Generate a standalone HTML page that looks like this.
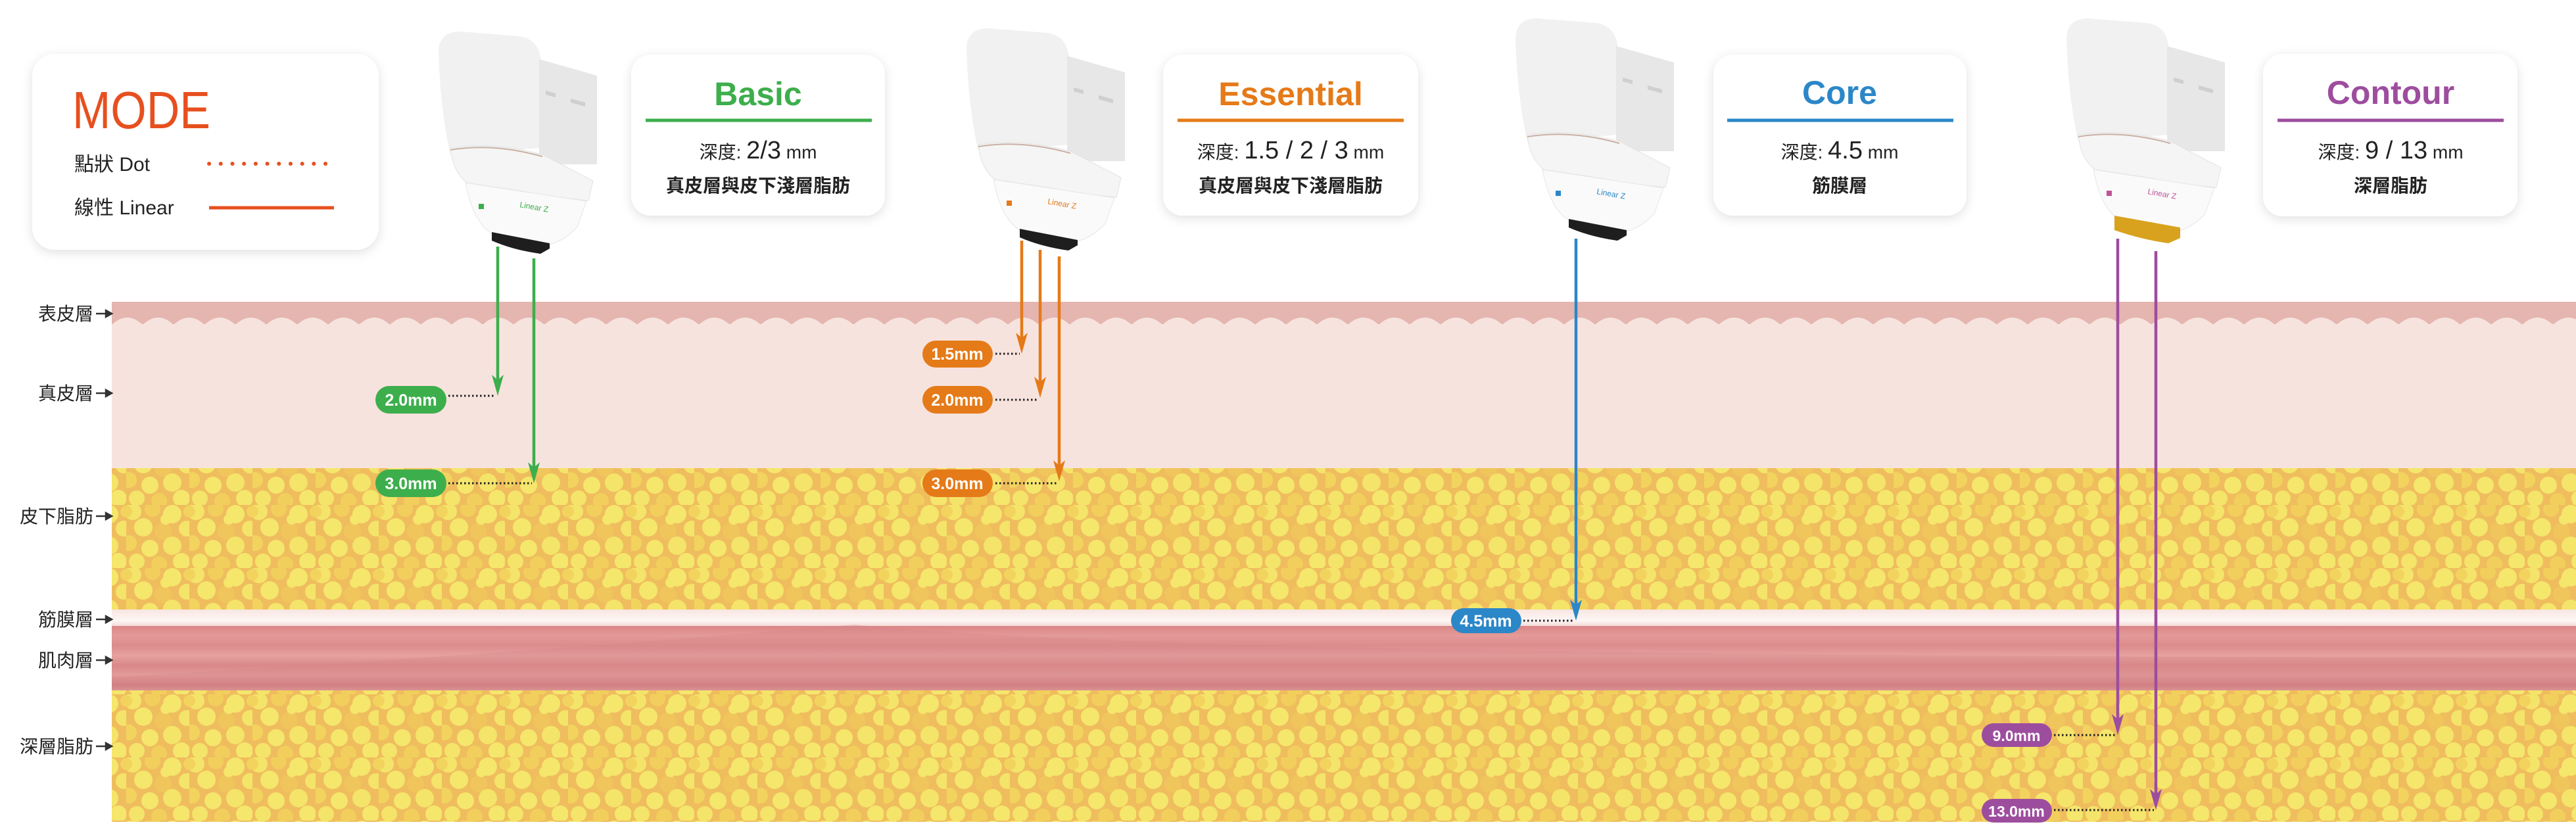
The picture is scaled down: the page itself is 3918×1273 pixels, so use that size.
<!DOCTYPE html>
<html><head><meta charset="utf-8">
<style>
html,body{margin:0;padding:0;background:#fff;}
body{width:3918px;height:1273px;overflow:hidden;position:relative;}
svg{position:absolute;left:0;top:0;}
text{font-family:"Liberation Sans","Noto Sans CJK TC",sans-serif;}
</style></head><body>
<svg width="3918" height="1273" viewBox="0 0 3918 1273" xmlns="http://www.w3.org/2000/svg">
<defs>
  <pattern id="fat" x="0" y="0" width="96" height="96" patternUnits="userSpaceOnUse">
    <rect width="96" height="96" fill="#efbd5e"/>
    <circle cx="10" cy="10" r="13" fill="#f4e46a"/>
    <circle cx="40" cy="6" r="12" fill="#f2cf5c"/>
    <circle cx="70" cy="14" r="14" fill="#f5e66c"/>
    <circle cx="92" cy="36" r="12" fill="#f4e46a"/>
    <circle cx="26" cy="34" r="14" fill="#f5e66c"/>
    <circle cx="56" cy="40" r="13" fill="#f0c65c"/>
    <circle cx="4" cy="58" r="12" fill="#f2d35e"/>
    <circle cx="36" cy="66" r="13" fill="#f5e66c"/>
    <circle cx="70" cy="62" r="14" fill="#f4e46a"/>
    <circle cx="16" cy="86" r="12" fill="#f4e46a"/>
    <circle cx="50" cy="90" r="12" fill="#f2cf5c"/>
    <circle cx="84" cy="86" r="13" fill="#f5e66c"/>
    <circle cx="96" cy="10" r="9" fill="#f2d35e"/>
    <circle cx="0" cy="10" r="9" fill="#f2d35e"/>
    <circle cx="60" cy="22" r="8" fill="#f5e66c"/>
  </pattern>
  <pattern id="wave" x="170" y="474" width="47" height="20" patternUnits="userSpaceOnUse">
    <rect width="47" height="20" fill="#e5b5b0"/>
    <path d="M0,20 Q23.5,-2 47,20 Z" fill="#f7e3de"/>
  </pattern>
  <linearGradient id="muscle" x1="0" y1="0" x2="0" y2="1">
    <stop offset="0" stop-color="#d98686"/>
    <stop offset="0.15" stop-color="#e39a98"/>
    <stop offset="0.3" stop-color="#dc8b8b"/>
    <stop offset="0.45" stop-color="#e6a2a0"/>
    <stop offset="0.6" stop-color="#d98888"/>
    <stop offset="0.75" stop-color="#e39b9a"/>
    <stop offset="0.9" stop-color="#cf7c7e"/>
    <stop offset="1" stop-color="#e0a0a0"/>
  </linearGradient>
  <linearGradient id="fascia" x1="0" y1="0" x2="0" y2="1">
    <stop offset="0" stop-color="#f8e6e2"/>
    <stop offset="0.6" stop-color="#fdf6f4"/>
    <stop offset="1" stop-color="#f1d2cf"/>
  </linearGradient>
  <filter id="sh" x="-10%" y="-10%" width="120%" height="130%">
    <feDropShadow dx="0" dy="4" stdDeviation="8" flood-color="#000" flood-opacity="0.12"/>
  </filter>
  <g id="probe">
    <path d="M27,60 Q27,28 60,28 L150,35 Q183,40 183,80 L183,205 L45,215 Q30,150 27,60Z" fill="#f1f1f1"/>
    <path d="M180,70 L268,95 L268,230 L180,230 Z" fill="#e7e7e7"/>
    <path d="M190,118 L205,122 L205,128 L190,124Z M228,130 L250,136 L250,142 L228,136Z" fill="#cfcfcf"/>
    <path d="M45,205 Q110,195 185,215 L262,255 L255,285 Q200,280 150,270 L70,258 Q48,240 45,205Z" fill="#f5f5f5" stroke="#e2e2e2" stroke-width="1"/>
    <path d="M45,208 Q110,197 185,218" stroke="#c9b0a4" stroke-width="2" fill="none"/>
    <path d="M68,258 L252,286 L238,325 Q220,345 196,352 L110,336 Q80,320 68,258Z" fill="#fafafa" stroke="#e6e6e6" stroke-width="1"/>
  </g>
</defs>

<!-- skin layers -->
<rect x="170" y="459" width="3748" height="34" fill="#e5b5b0"/>
<rect x="170" y="474" width="3748" height="20" fill="url(#wave)"/>
<rect x="170" y="493" width="3748" height="222" fill="#f7e3de"/>
<rect x="170" y="712" width="3748" height="218" fill="url(#fat)"/>
<rect x="170" y="927" width="3748" height="28" fill="url(#fascia)"/>
<rect x="170" y="952" width="3748" height="100" fill="url(#muscle)"/>
<path d="M170,1030 Q700,1000 1300,950 Q1800,1000 3918,1000 L3918,1052 L170,1052Z" fill="#d7878a" opacity="0.35"/>
<rect x="170" y="1050" width="3748" height="200" fill="url(#fat)"/>

<!-- left labels -->
<g font-size="28" fill="#222" text-anchor="end">
  <text x="142" y="487">表皮層</text>
  <text x="142" y="608">真皮層</text>
  <text x="142" y="795">皮下脂肪</text>
  <text x="142" y="952">筋膜層</text>
  <text x="142" y="1014">肌肉層</text>
  <text x="142" y="1145">深層脂肪</text>
</g>
<g stroke="#333" stroke-width="2.5" fill="#333">
  <line x1="146" y1="477" x2="166" y2="477"/><path d="M170,477 l-9,-5 v10z"/>
  <line x1="146" y1="598" x2="166" y2="598"/><path d="M170,598 l-9,-5 v10z"/>
  <line x1="146" y1="785" x2="166" y2="785"/><path d="M170,785 l-9,-5 v10z"/>
  <line x1="146" y1="942" x2="166" y2="942"/><path d="M170,942 l-9,-5 v10z"/>
  <line x1="146" y1="1004" x2="166" y2="1004"/><path d="M170,1004 l-9,-5 v10z"/>
  <line x1="146" y1="1135" x2="166" y2="1135"/><path d="M170,1135 l-9,-5 v10z"/>
</g>

<!-- MODE box -->
<rect x="49" y="82" width="527" height="298" rx="34" fill="#fff" filter="url(#sh)"/>
<text x="110" y="195" font-size="80" fill="#e6501f" textLength="210" lengthAdjust="spacingAndGlyphs">MODE</text>
<text x="113" y="260" font-size="30" fill="#222">點狀 Dot</text>
<text x="113" y="326" font-size="30" fill="#222">線性 Linear</text>
<line x1="318" y1="249" x2="505" y2="249" stroke="#e6501f" stroke-width="6" stroke-linecap="round" stroke-dasharray="0.1 17.6"/>
<line x1="318" y1="316" x2="508" y2="316" stroke="#e6501f" stroke-width="5"/>

<!-- cards -->
<g filter="url(#sh)" fill="#fff">
  <rect x="960" y="83" width="386" height="245" rx="30"/>
  <rect x="1769" y="83" width="388" height="245" rx="30"/>
  <rect x="2606" y="83" width="385" height="245" rx="30"/>
  <rect x="3442" y="82" width="387" height="247" rx="30"/>
</g>
<g text-anchor="middle" font-weight="bold">
  <text x="1153" y="160" font-size="50" fill="#3dae4c">Basic</text>
  <line x1="982" y1="183" x2="1326" y2="183" stroke="#3dae4c" stroke-width="5"/>
  <text x="1153" y="241" font-size="28" fill="#222" font-weight="normal">深度: <tspan font-size="38">2/3</tspan> mm</text>
  <text x="1153" y="292" font-size="28" fill="#222">真皮層與皮下淺層脂肪</text>

  <text x="1963" y="160" font-size="50" fill="#e57a18">Essential</text>
  <line x1="1791" y1="183" x2="2135" y2="183" stroke="#e57a18" stroke-width="5"/>
  <text x="1963" y="241" font-size="28" fill="#222" font-weight="normal">深度: <tspan font-size="38">1.5 / 2 / 3</tspan> mm</text>
  <text x="1963" y="292" font-size="28" fill="#222">真皮層與皮下淺層脂肪</text>

  <text x="2798" y="158" font-size="50" fill="#2b87c8">Core</text>
  <line x1="2627" y1="183" x2="2971" y2="183" stroke="#2b87c8" stroke-width="5"/>
  <text x="2798" y="241" font-size="28" fill="#222" font-weight="normal">深度: <tspan font-size="38">4.5</tspan>  mm</text>
  <text x="2798" y="292" font-size="28" fill="#222">筋膜層</text>

  <text x="3636" y="158" font-size="50" fill="#9d4d9e">Contour</text>
  <line x1="3464" y1="183" x2="3808" y2="183" stroke="#9d4d9e" stroke-width="5"/>
  <text x="3636" y="241" font-size="28" fill="#222" font-weight="normal">深度: <tspan font-size="38">9 / 13</tspan> mm</text>
  <text x="3636" y="292" font-size="28" fill="#222">深層脂肪</text>
</g>

<!-- probes -->
<g transform="translate(640,20)">
  <use href="#probe"/>
  <path d="M108,333 L196,350 L196,358 L182,366 Q140,360 108,346Z" fill="#1e1e1e"/>
  <text x="150" y="295" font-size="12" fill="#3dae4c" transform="rotate(10 150 295)">Linear Z</text>
  <rect x="88" y="290" width="8" height="8" fill="#3dae4c"/>
</g>
<g transform="translate(1443,15)">
  <use href="#probe"/>
  <path d="M108,333 L196,350 L196,358 L182,366 Q140,360 108,346Z" fill="#1e1e1e"/>
  <text x="150" y="295" font-size="12" fill="#e57a18" transform="rotate(10 150 295)">Linear Z</text>
  <rect x="88" y="290" width="8" height="8" fill="#e57a18"/>
</g>
<g transform="translate(2278,0)">
  <use href="#probe"/>
  <path d="M108,333 L196,350 L196,358 L182,366 Q140,360 108,346Z" fill="#1e1e1e"/>
  <text x="150" y="295" font-size="12" fill="#2b87c8" transform="rotate(10 150 295)">Linear Z</text>
  <rect x="88" y="290" width="8" height="8" fill="#2b87c8"/>
</g>
<g transform="translate(3116,0)">
  <use href="#probe"/>
  <path d="M100,328 L200,346 L200,362 L182,370 Q140,364 100,350Z" fill="#d9a21e"/>
  <text x="150" y="295" font-size="12" fill="#c0539a" transform="rotate(10 150 295)">Linear Z</text>
  <rect x="88" y="290" width="8" height="8" fill="#c0539a"/>
</g>

<!-- arrows -->
<g stroke-width="4.5">
  <line x1="757" y1="375" x2="757" y2="585" stroke="#3dae4c"/>
  <path d="M757,602 l-9,-32 l9,8 l9,-8z" fill="#3dae4c"/>
  <line x1="812" y1="393" x2="812" y2="718" stroke="#3dae4c"/>
  <path d="M812,735 l-9,-32 l9,8 l9,-8z" fill="#3dae4c"/>

  <line x1="1554" y1="366" x2="1554" y2="520" stroke="#e57a18"/>
  <path d="M1554,538 l-9,-32 l9,8 l9,-8z" fill="#e57a18"/>
  <line x1="1582" y1="380" x2="1582" y2="588" stroke="#e57a18"/>
  <path d="M1582,605 l-9,-32 l9,8 l9,-8z" fill="#e57a18"/>
  <line x1="1611" y1="390" x2="1611" y2="715" stroke="#e57a18"/>
  <path d="M1611,732 l-9,-32 l9,8 l9,-8z" fill="#e57a18"/>

  <line x1="2397" y1="363" x2="2397" y2="927" stroke="#2b87c8"/>
  <path d="M2397,944 l-9,-32 l9,8 l9,-8z" fill="#2b87c8"/>

  <line x1="3221" y1="363" x2="3221" y2="1100" stroke="#9d4d9e"/>
  <path d="M3221,1118 l-9,-32 l9,8 l9,-8z" fill="#9d4d9e"/>
  <line x1="3279" y1="382" x2="3279" y2="1214" stroke="#9d4d9e"/>
  <path d="M3279,1232 l-9,-32 l9,8 l9,-8z" fill="#9d4d9e"/>
</g>

<!-- leaders -->
<g stroke="#222" stroke-width="3" stroke-dasharray="2.5 3.5">
  <line x1="682" y1="602" x2="754" y2="602"/>
  <line x1="682" y1="735" x2="809" y2="735"/>
  <line x1="1514" y1="538" x2="1551" y2="538"/>
  <line x1="1514" y1="608" x2="1579" y2="608"/>
  <line x1="1514" y1="735" x2="1608" y2="735"/>
  <line x1="2317" y1="944" x2="2394" y2="944"/>
  <line x1="3124" y1="1118" x2="3218" y2="1118"/>
  <line x1="3124" y1="1232" x2="3276" y2="1232"/>
</g>

<!-- pills -->
<g font-weight="bold" font-size="25" fill="#fff" text-anchor="middle">
  <rect x="571" y="587" width="108" height="42" rx="21" fill="#3dae4c"/><text x="625" y="617">2.0mm</text>
  <rect x="571" y="714" width="108" height="42" rx="21" fill="#3dae4c"/><text x="625" y="744">3.0mm</text>
  <rect x="1403" y="518" width="107" height="41" rx="20.5" fill="#e57a18"/><text x="1456" y="547">1.5mm</text>
  <rect x="1403" y="587" width="107" height="42" rx="21" fill="#e57a18"/><text x="1456" y="617">2.0mm</text>
  <rect x="1403" y="714" width="107" height="42" rx="21" fill="#e57a18"/><text x="1456" y="744">3.0mm</text>
  <rect x="2207" y="925" width="107" height="38" rx="19" fill="#2b87c8"/><text x="2260" y="953">4.5mm</text>
  <rect x="3014" y="1100" width="107" height="36" rx="18" fill="#9d4d9e"/><text x="3067" y="1127" font-size="23">9.0mm</text>
  <rect x="3014" y="1215" width="107" height="36" rx="18" fill="#9d4d9e"/><text x="3067" y="1242" font-size="23">13.0mm</text>
</g>
</svg>
</body></html>
